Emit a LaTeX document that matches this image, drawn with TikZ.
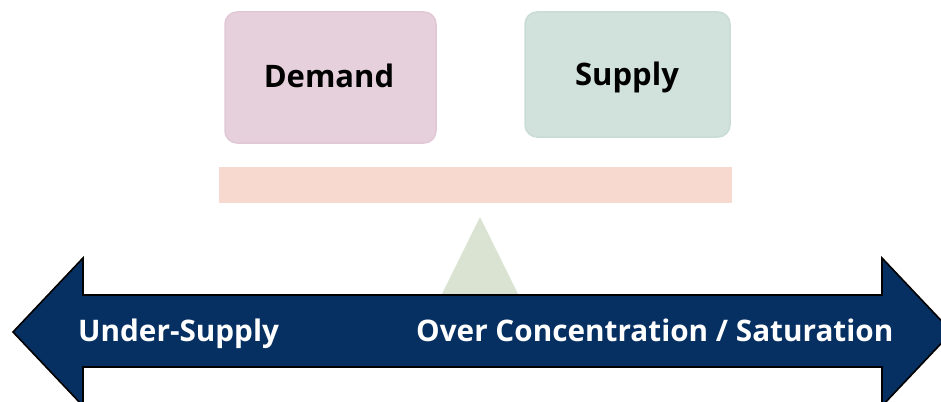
\documentclass[tikz,border=0pt]{standalone}
\usepackage{fontspec}
\setmainfont{Open Sans}
\definecolor{demandfill}{HTML}{E6D0DC}
\definecolor{demandline}{HTML}{E0C8D5}
\definecolor{supplyfill}{HTML}{D1E1DC}
\definecolor{supplyline}{HTML}{CADCD6}
\definecolor{beamfill}{HTML}{F7D9D0}
\definecolor{pivotfill}{HTML}{DAE3D2}
\definecolor{navy}{HTML}{073062}
\begin{document}
\begin{tikzpicture}[x=1pt,y=-1pt,
  card/.style={rounded corners=12pt, line width=1.5pt},
  cardtext/.style={font=\bfseries\fontsize{31}{36}\selectfont, text=black, anchor=base, inner sep=0pt},
  axistext/.style={font=\bfseries\fontsize{29.7}{34}\selectfont, text=white, anchor=base west, inner sep=0pt}]
  \useasboundingbox (0,0) rectangle (941,401);
  \clip (0,0) rectangle (941,401);
  % the two pans
  \draw[card, fill=demandfill, draw=demandline] (225,12) rectangle (436,143);
  \draw[card, fill=supplyfill, draw=supplyline] (525,12) rectangle (730,137);
  \node[cardtext] (demand) at (329,88) {Demand};
  \node[cardtext] (supply) at (627,86) {Supply};
  % beam and pivot
  \fill[beamfill] (219,167) rectangle (732,203);
  \fill[pivotfill] (480,217) -- (519,296) -- (441,296) -- cycle;
  % double-headed axis arrow
  \draw[fill=navy, draw=black, line width=1.6pt, line join=miter]
    (13,332) -- (83,258) -- (83,295) -- (882,295) -- (882,258) -- (952,332)
    -- (882,406) -- (882,367) -- (83,367) -- (83,406) -- cycle;
  \node[axistext] (under) at (78,341) {Under-Supply};
  \node[axistext] (over) at (416,341) {Over Concentration / Saturation};
\end{tikzpicture}
\end{document}
